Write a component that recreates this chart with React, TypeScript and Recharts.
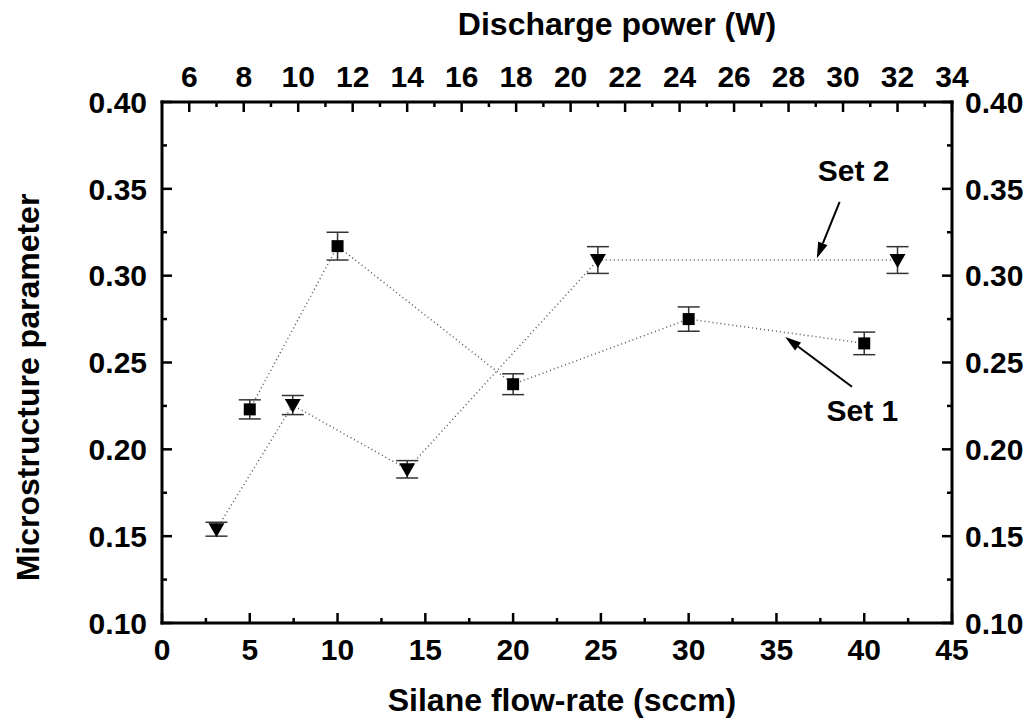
import React from "react";
import {
  ComposedChart,
  Scatter,
  XAxis,
  YAxis,
  ErrorBar,
  ReferenceLine,
  ReferenceDot,
} from "recharts";

// Set 1: plotted against silane flow-rate (bottom axis)
const flowRate = [5, 10, 20, 30, 40];
const set1Values = [0.223, 0.317, 0.2375, 0.275, 0.261];
const set1Errors = [0.0055, 0.008, 0.006, 0.007, 0.0065];

// Set 2: plotted against discharge power (top axis)
const power = [7, 9.8, 14, 21, 32];
const set2Values = [0.154, 0.2255, 0.1885, 0.309, 0.309];
const set2Errors = [0.004, 0.0055, 0.005, 0.0077, 0.0077];

const flowTicks = [
  0, 2.5, 5, 7.5, 10, 12.5, 15, 17.5, 20, 22.5, 25, 27.5, 30, 32.5, 35, 37.5,
  40, 42.5, 45,
];
const powerTicks = [
  6, 7, 8, 9, 10, 11, 12, 13, 14, 15, 16, 17, 18, 19, 20, 21, 22, 23, 24, 25,
  26, 27, 28, 29, 30, 31, 32, 33, 34,
];
const paramTicks = [
  0.1, 0.125, 0.15, 0.175, 0.2, 0.225, 0.25, 0.275, 0.3, 0.325, 0.35, 0.375,
  0.4,
];

// annotations (bottom/left axis units)
const set1Arrow = [
  { x: 39.3, y: 0.236 },
  { x: 35.5, y: 0.2647 },
];
const set2Arrow = [
  { x: 38.6, y: 0.3425 },
  { x: 37.3, y: 0.31 },
];
const set1Label = { x: 39.9, y: 0.2227, text: "Set 1" };
const set2Label = { x: 39.4, y: 0.361, text: "Set 2" };

const set1 = flowRate.map((x, i) => ({ x, y: set1Values[i], err: set1Errors[i] }));
const set2 = power.map((x, i) => ({ x, y: set2Values[i], err: set2Errors[i] }));

const FONT = "'Liberation Sans', Arial, Helvetica, sans-serif";
const TICK_FS = 30;
const TITLE_FS = 32;

const textStyle = {
  fontFamily: FONT,
  fontWeight: "bold" as const,
  fill: "#000",
};

const isMajor = (v: number, step: number) =>
  Math.abs(v / step - Math.round(v / step)) < 1e-6;

function BottomTick({ x, y, payload }: any) {
  const v = payload.value;
  const major = isMajor(v, 5);
  return (
    <g>
      <line x1={x} x2={x} y1={y} y2={y - (major ? 10 : 5)} stroke="#000" strokeWidth={2.5} />
      {major && (
        <text x={x} y={y + 15} dy="0.72em" textAnchor="middle" fontSize={TICK_FS} {...textStyle}>
          {v}
        </text>
      )}
    </g>
  );
}

function TopTick({ x, y, payload }: any) {
  const v = payload.value;
  const major = isMajor(v, 2);
  return (
    <g>
      <line x1={x} x2={x} y1={y} y2={y + (major ? 10 : 5)} stroke="#000" strokeWidth={2.5} />
      {major && (
        <text x={x} y={y - 15} textAnchor="middle" fontSize={TICK_FS} {...textStyle}>
          {v}
        </text>
      )}
    </g>
  );
}

function LeftTick({ x, y, payload }: any) {
  const v = payload.value;
  const major = isMajor(v, 0.05);
  return (
    <g>
      <line x1={x} x2={x + (major ? 10 : 5)} y1={y} y2={y} stroke="#000" strokeWidth={2.5} />
      {major && (
        <text x={x - 15} y={y} dy="0.36em" textAnchor="end" fontSize={TICK_FS} {...textStyle}>
          {v.toFixed(2)}
        </text>
      )}
    </g>
  );
}

function RightTick({ x, y, payload }: any) {
  const v = payload.value;
  const major = isMajor(v, 0.05);
  return (
    <g>
      <line x1={x} x2={x - (major ? 10 : 5)} y1={y} y2={y} stroke="#000" strokeWidth={2.5} />
      {major && (
        <text x={x + 13} y={y} dy="0.36em" textAnchor="start" fontSize={TICK_FS} {...textStyle}>
          {v.toFixed(2)}
        </text>
      )}
    </g>
  );
}

function Square({ cx, cy }: any) {
  return <rect x={cx - 6} y={cy - 6} width={12} height={12} fill="#000" />;
}

function TriangleDown({ cx, cy }: any) {
  return (
    <path d={`M${cx - 8},${cy - 6}L${cx + 8},${cy - 6}L${cx},${cy + 8}Z`} fill="#000" />
  );
}

function Arrow({ x1, y1, x2, y2 }: any) {
  const dx = x2 - x1;
  const dy = y2 - y1;
  const len = Math.hypot(dx, dy) || 1;
  const ux = dx / len;
  const uy = dy / len;
  const hl = 16;
  const hw = 5;
  const bx = x2 - ux * hl;
  const by = y2 - uy * hl;
  return (
    <g>
      <line x1={x1} y1={y1} x2={bx} y2={by} stroke="#000" strokeWidth={2} />
      <polygon
        points={`${x2},${y2} ${bx - uy * hw},${by + ux * hw} ${bx + uy * hw},${by - ux * hw}`}
        fill="#000"
      />
    </g>
  );
}

function Note(text: string) {
  return ({ cx, cy }: any) => (
    <text x={cx} y={cy} dy="0.36em" textAnchor="middle" fontSize={30} {...textStyle}>
      {text}
    </text>
  );
}

function BottomTitle({ viewBox }: any) {
  return (
    <text x={viewBox.x + viewBox.width / 2 + 5} y={viewBox.y + 88} textAnchor="middle" fontSize={TITLE_FS} {...textStyle}>
      Silane flow-rate (sccm)
    </text>
  );
}

function TopTitle({ viewBox }: any) {
  return (
    <text x={viewBox.x + viewBox.width / 2 + 60} y={viewBox.y + 35} textAnchor="middle" fontSize={TITLE_FS} {...textStyle}>
      Discharge power (W)
    </text>
  );
}

function LeftTitle({ viewBox }: any) {
  const cx = 27;
  const cy = viewBox.y + viewBox.height / 2 + 25;
  return (
    <text
      x={cx}
      y={cy}
      dy="0.36em"
      textAnchor="middle"
      transform={`rotate(-90 ${cx} ${cy})`}
      fontSize={TITLE_FS}
      {...textStyle}
    >
      Microstructure parameter
    </text>
  );
}

const axisLine = { stroke: "#000", strokeWidth: 3, strokeLinecap: "square" as const };
const dotted = { stroke: "#555", strokeWidth: 1.5, strokeDasharray: "1 3" };

export default function App() {
  return (
    <div style={{ position: "absolute", left: 0, top: 0, background: "#fff" }}>
      <ComposedChart width={1031} height={719} margin={{ top: 0, right: 0, bottom: 0, left: 0 }}>
        <XAxis
          xAxisId="bottom"
          dataKey="x"
          type="number"
          orientation="bottom"
          domain={[0, 45]}
          ticks={flowTicks}
          interval={0}
          height={96}
          tickSize={0}
          tickMargin={0}
          axisLine={axisLine}
          tickLine={false}
          tick={(p: any) => <BottomTick {...p} />}
          label={{ content: (p: any) => <BottomTitle {...p} /> }}
          allowDataOverflow
        />
        <XAxis
          xAxisId="top"
          dataKey="x"
          type="number"
          orientation="top"
          domain={[5, 34]}
          ticks={powerTicks}
          interval={0}
          height={102}
          tickSize={0}
          tickMargin={0}
          axisLine={axisLine}
          tickLine={false}
          tick={(p: any) => <TopTick {...p} />}
          label={{ content: (p: any) => <TopTitle {...p} /> }}
          allowDataOverflow
        />
        <YAxis
          yAxisId="left"
          dataKey="y"
          type="number"
          orientation="left"
          domain={[0.1, 0.4]}
          ticks={paramTicks}
          interval={0}
          width={162}
          tickSize={0}
          tickMargin={0}
          axisLine={axisLine}
          tickLine={false}
          tick={(p: any) => <LeftTick {...p} />}
          label={{ content: (p: any) => <LeftTitle {...p} /> }}
          allowDataOverflow
        />
        <YAxis
          yAxisId="right"
          dataKey="y"
          type="number"
          orientation="right"
          domain={[0.1, 0.4]}
          ticks={paramTicks}
          interval={0}
          width={79}
          tickSize={0}
          tickMargin={0}
          axisLine={axisLine}
          tickLine={false}
          tick={(p: any) => <RightTick {...p} />}
          allowDataOverflow
        />

        <Scatter
          name="Set 1"
          data={set1}
          xAxisId="bottom"
          yAxisId="left"
          line={dotted}
          lineType="joint"
          shape={(p: any) => <Square {...p} />}
          isAnimationActive={false}
        >
          <ErrorBar dataKey="err" direction="y" width={11} stroke="#333" strokeWidth={1.5} isAnimationActive={false} />
        </Scatter>
        <Scatter
          name="Set 2"
          data={set2}
          xAxisId="top"
          yAxisId="left"
          line={dotted}
          lineType="joint"
          shape={(p: any) => <TriangleDown {...p} />}
          isAnimationActive={false}
        >
          <ErrorBar dataKey="err" direction="y" width={11} stroke="#333" strokeWidth={1.5} isAnimationActive={false} />
        </Scatter>

        <ReferenceLine
          xAxisId="bottom"
          yAxisId="left"
          segment={set1Arrow}
          shape={(p: any) => <Arrow {...p} />}
        />
        <ReferenceLine
          xAxisId="bottom"
          yAxisId="left"
          segment={set2Arrow}
          shape={(p: any) => <Arrow {...p} />}
        />
        <ReferenceDot
          xAxisId="bottom"
          yAxisId="left"
          x={set1Label.x}
          y={set1Label.y}
          shape={Note(set1Label.text)}
        />
        <ReferenceDot
          xAxisId="bottom"
          yAxisId="left"
          x={set2Label.x}
          y={set2Label.y}
          shape={Note(set2Label.text)}
        />
      </ComposedChart>
    </div>
  );
}
